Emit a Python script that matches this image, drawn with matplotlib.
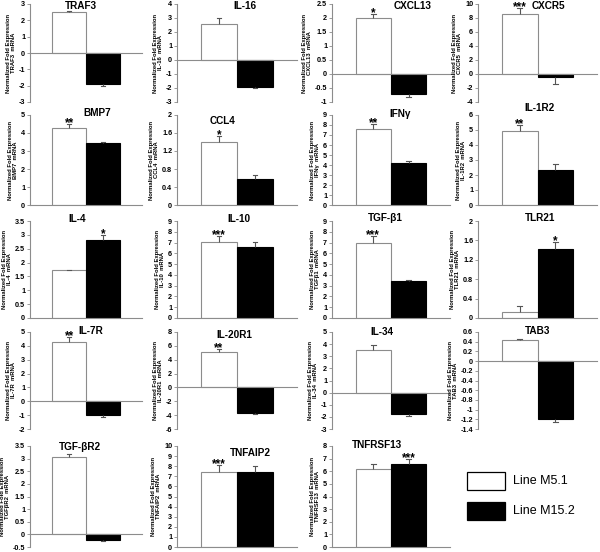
import matplotlib
matplotlib.use("Agg")
import matplotlib.pyplot as plt
from matplotlib.patches import Rectangle
from matplotlib.ticker import FuncFormatter, MultipleLocator

plt.rcParams['font.family'] = ['Liberation Sans', 'DejaVu Sans']
plt.rcParams['axes.unicode_minus'] = False

# ---------------- data ----------------
genes = ["TRAF3", "IL-16", "CXCL13", "CXCR5",
         "BMP7", "CCL4", "IFNγ", "IL-1R2",
         "IL-4", "IL-10", "TGF-β1", "TLR21",
         "IL-7R", "IL-20R1", "IL-34", "TAB3",
         "TGF-βR2", "TNFAIP2", "TNFRSF13"]
ylabel_genes = ["TRAF3", "IL-16", "CXCL13", "CXCR5",
                "BMP7", "CCL4", "IFNγ", "IL-1R2",
                "IL-4", "IL-10", "TGFβ1", "TLR21",
                "IL-7R", "IL-20R1", "IL-34", "TAB3",
                "TGFβR2", "TNFAIP2", "TNFRSF13"]
series = ["Line M5.1", "Line M15.2"]
m51 = [2.5, 2.55, 2.0, 8.6,
       4.25, 1.4, 7.6, 4.95,
       1.73, 7.05, 6.95, 0.13,
       4.25, 5.1, 3.5, 0.43,
       3.05, 7.45, 6.15]
m51_err = [0.1, 0.45, 0.15, 0.8,
           0.25, 0.13, 0.5, 0.4,
           0.02, 0.55, 0.7, 0.12,
           0.4, 0.4, 0.4, 0.02,
           0.15, 0.65, 0.45]
m152 = [-1.9, -1.9, -0.73, -0.5,
        3.45, 0.57, 4.2, 2.35,
        2.8, 6.6, 3.4, 1.43,
        -1.0, -3.7, -1.75, -1.2,
        -0.22, 7.45, 6.6]
m152_err = [0.1, 0.1, 0.08, 1.0,
            0.05, 0.1, 0.15, 0.35,
            0.18, 0.45, 0.1, 0.13,
            0.15, 0.2, 0.15, 0.05,
            0.05, 0.6, 0.35]
# significance: (which series index, stars)
signif = [None, None, (0, "*"), (0, "***"),
          (0, "**"), (0, "*"), (0, "**"), (0, "**"),
          (1, "*"), (0, "***"), (0, "***"), (1, "*"),
          (0, "**"), (0, "**"), None, None,
          None, (0, "***"), (1, "***")]
ylims = [(-3, 3), (-3, 4), (-1, 2.5), (-4, 10),
         (0, 5), (0, 2), (0, 9), (0, 6),
         (0, 3.5), (0, 9), (0, 9), (0, 2),
         (-2, 5), (-6, 8), (-3, 5), (-1.4, 0.6),
         (-0.5, 3.5), (0, 10), (0, 8)]
ysteps = [1, 1, 0.5, 2,
          1, 0.4, 1, 1,
          0.5, 1, 1, 0.4,
          1, 2, 1, 0.2,
          0.5, 1, 1]

# ---------------- layout (pixels) ----------------
W, H = 600, 552
col_left = [30, 177, 332, 478]
col_width = [112, 120, 118, 119]
row_top = [4, 115, 221, 332, 446]
row_bot = [102, 205, 318, 429, 547]
title_x = [0.45, 0.57, 0.68, 0.59,
           0.60, 0.38, 0.58, 0.52,
           0.42, 0.52, 0.45, 0.52,
           0.54, 0.48, 0.42, 0.50,
           0.45, 0.61, 0.38]
title_ypx = [6, 6, 6, 6,
             113, 121, 114, 108,
             219, 219, 218, 218,
             331, 335, 332, 331,
             447, 453, 445]

fig = plt.figure(figsize=(W / 100, H / 100), dpi=100)
gray = "#8c8c8c"
bw = 0.3

fmt = FuncFormatter(lambda v, p: ("%g" % round(v, 6)))

for i, g in enumerate(genes):
    r, c = divmod(i, 4)
    l = col_left[c] / W
    b = 1 - row_bot[r] / H
    h = (row_bot[r] - row_top[r]) / H
    ax = fig.add_axes([l, b, col_width[c] / W, h])
    ax.set_xlim(0, 1)
    ax.set_ylim(*ylims[i])
    ax.yaxis.set_major_locator(MultipleLocator(ysteps[i]))
    ax.yaxis.set_major_formatter(fmt)
    for s in ["top", "right"]:
        ax.spines[s].set_visible(False)
    ax.spines["left"].set_color(gray)
    ax.spines["left"].set_linewidth(0.8)
    ax.spines["bottom"].set_position(("data", 0))
    ax.spines["bottom"].set_color(gray)
    ax.spines["bottom"].set_linewidth(0.8)
    ax.set_xticks([])
    ax.tick_params(axis="y", length=2, width=0.6, color=gray, pad=1.5,
                   labelsize=5.2)
    for t in ax.get_yticklabels():
        t.set_fontweight("bold")
    ax.patch.set_alpha(0)

    vals = [m51[i], m152[i]]
    errs = [m51_err[i], m152_err[i]]
    xs = [0.5 - bw / 2, 0.5 + bw / 2]
    ax.bar(xs[0], vals[0], width=bw, color="white", edgecolor=gray,
           linewidth=0.8, zorder=2)
    ax.bar(xs[1], vals[1], width=bw, color="black", edgecolor="black",
           linewidth=0.8, zorder=2)
    cap = 0.02
    for x, v, e in zip(xs, vals, errs):
        end = v + e if v >= 0 else v - e
        ax.plot([x, x], [v, end], color="#555555", lw=0.8, zorder=3,
                solid_capstyle="butt")
        ax.plot([x - cap, x + cap], [end, end], color="#555555", lw=0.8,
                zorder=3)
    if signif[i] is not None:
        k, stars = signif[i]
        v, e = vals[k], errs[k]
        ax.annotate(stars, (xs[k], v + e), xytext=(0, -1.6),
                    textcoords="offset points", ha="center", va="baseline",
                    fontsize=8.5, fontweight="bold", annotation_clip=False)

    ax.set_ylabel("Normalized Fold Expression\n%s  mRNA" % ylabel_genes[i],
                  fontsize=4.2, fontweight="bold", labelpad=2,
                  linespacing=1.0)
    fig.text(l + title_x[i] * col_width[c] / W, 1 - title_ypx[i] / H, g,
             ha="center", va="center", fontsize=7.2, fontweight="bold")

# legend
lax = fig.add_axes([0, 0, 1, 1])
lax.set_xlim(0, W)
lax.set_ylim(H, 0)
lax.axis("off")
lax.add_patch(Rectangle((467, 472), 38, 18, facecolor="white",
                        edgecolor="black", lw=0.9))
lax.add_patch(Rectangle((467, 502), 38, 18, facecolor="black",
                        edgecolor="black", lw=0.9))
lax.text(513, 481, series[0], va="center", ha="left", fontsize=9)
lax.text(513, 511, series[1], va="center", ha="left", fontsize=9)

fig.savefig("out.png", dpi=100)
